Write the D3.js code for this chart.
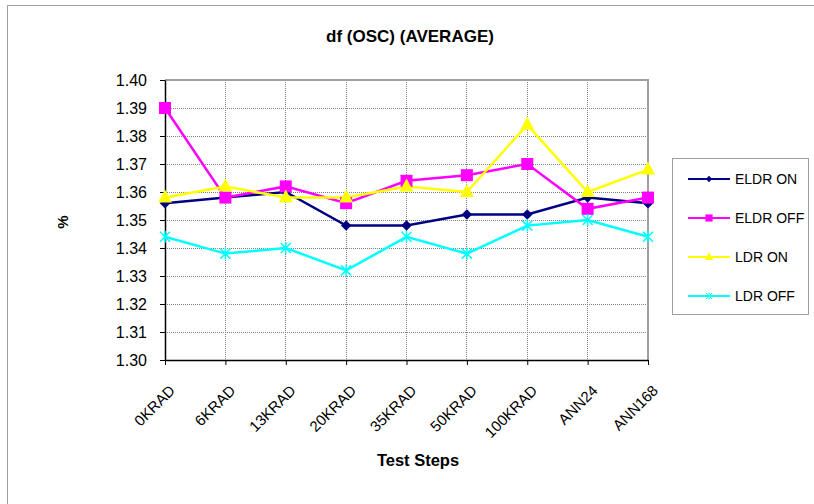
<!DOCTYPE html>
<html><head><meta charset="utf-8">
<script src="https://cdn.jsdelivr.net/npm/d3@7"></script>
<style>body{margin:0;background:#fff}svg{display:block;font-family:"Liberation Sans",Arial,sans-serif}</style>
</head><body><svg id="c" width="814" height="504"></svg>
<script>
const categories = ["0KRAD","6KRAD","13KRAD","20KRAD","35KRAD","50KRAD","100KRAD","ANN24","ANN168"];
const eldrOn  = [1.356,1.358,1.360,1.348,1.348,1.352,1.352,1.358,1.356];
const eldrOff = [1.390,1.358,1.362,1.356,1.364,1.366,1.370,1.354,1.358];
const ldrOn   = [1.358,1.362,1.358,1.358,1.362,1.360,1.384,1.360,1.368];
const ldrOff  = [1.344,1.338,1.340,1.332,1.344,1.338,1.348,1.350,1.344];
const yTicks = [1.30,1.31,1.32,1.33,1.34,1.35,1.36,1.37,1.38,1.39,1.40];
const seriesNames = ["ELDR ON","ELDR OFF","LDR ON","LDR OFF"];
const title = "df (OSC) (AVERAGE)", xTitle = "Test Steps", yTitle = "%";

const series = [
  {name:seriesNames[0], values:eldrOn, color:"#000080", sym:"diamond"},
  {name:seriesNames[1], values:eldrOff, color:"#FF00FF", sym:"square"},
  {name:seriesNames[2], values:ldrOn, color:"#FFFF00", sym:"triangle"},
  {name:seriesNames[3], values:ldrOff, color:"#00FFFF", sym:"x"}
];
const svg = d3.select("#c");
const L=165,R=648,T=80,B=360;
const x = d3.scalePoint().domain(categories).range([L,R]);
const y = d3.scaleLinear().domain([1.30,1.40]).range([B,T]);

svg.append("rect").attr("x",7.5).attr("y",5.5).attr("width",830).attr("height",520).attr("fill","none").attr("stroke","#a0a0a0");

// grid
const g = svg.append("g");
g.selectAll(".hg").data(yTicks).join("line").attr("x1",L).attr("x2",R).attr("y1",d=>y(d)).attr("y2",d=>y(d))
  .attr("stroke","#808080").attr("stroke-dasharray","1,1").attr("shape-rendering","crispEdges");
g.selectAll(".vg").data(categories).join("line").attr("x1",d=>x(d)).attr("x2",d=>x(d)).attr("y1",T).attr("y2",B)
  .attr("stroke","#808080").attr("stroke-dasharray","1,1").attr("shape-rendering","crispEdges");
// plot border top/right
svg.append("line").attr("x1",L).attr("x2",R+1).attr("y1",T).attr("y2",T).attr("stroke","#a0a0a0").attr("stroke-width",2);
svg.append("line").attr("x1",R).attr("x2",R).attr("y1",T).attr("y2",B).attr("stroke","#a0a0a0").attr("stroke-width",2);

// axes
const ya = svg.append("g").attr("transform",`translate(${L},0)`)
  .call(d3.axisLeft(y).tickValues(yTicks).tickFormat(d3.format(".2f")).tickSize(5).tickSizeOuter(0).tickPadding(13));
ya.select(".domain").attr("stroke","#000").attr("stroke-width",1.5);
ya.selectAll("text").attr("font-size",16).attr("fill","#000").attr("font-family","Liberation Sans, Arial, sans-serif");
const xa = svg.append("g").attr("transform",`translate(0,${B})`)
  .call(d3.axisBottom(x).tickSize(5).tickSizeOuter(0));
xa.select(".domain").attr("stroke","#000").attr("stroke-width",1.5);
xa.selectAll("text").attr("font-size",15).attr("fill","#000").attr("font-family","Liberation Sans, Arial, sans-serif")
  .attr("text-anchor","end").attr("y",0).attr("dy",0).attr("transform","translate(10.5,31.5) rotate(-45)");

// lines
const line = d3.line().x((d,i)=>x(categories[i])).y(d=>y(d));
function marker(sel, s){
  if(s.sym==="diamond") sel.append("path").attr("d",d3.symbol(d3.symbolDiamond2,70)).attr("fill",s.color);
  else if(s.sym==="square") sel.append("rect").attr("x",-6).attr("y",-6).attr("width",12).attr("height",12).attr("fill",s.color);
  else if(s.sym==="triangle") sel.append("path").attr("d","M0,-8L7,5L-7,5Z").attr("fill",s.color);
  else { sel.append("path").attr("d","M-5,-5L5,5M-5,5L5,-5M0,-6L0,6").attr("stroke",s.color).attr("stroke-width",1.5).attr("fill","none"); }
}
series.forEach(s=>{
  svg.append("path").datum(s.values).attr("d",line).attr("fill","none").attr("stroke",s.color).attr("stroke-width",2.5);
});
series.forEach(s=>{
  s.values.forEach((v,i)=>{
    const m = svg.append("g").attr("transform",`translate(${x(categories[i])},${y(v)})`);
    marker(m,s);
  });
});

// titles
svg.append("text").attr("x",410).attr("y",42).attr("text-anchor","middle").attr("font-weight","bold").attr("font-size",17).text(title);
svg.append("text").attr("x",418).attr("y",466).attr("text-anchor","middle").attr("font-weight","bold").attr("font-size",16.5).text(xTitle);
svg.append("text").attr("transform","translate(68,222) rotate(-90)").attr("text-anchor","middle").attr("font-weight","bold").attr("font-size",15).text(yTitle);

// legend
svg.append("rect").attr("x",672.5).attr("y",158.5).attr("width",136).attr("height",156).attr("fill","#fff").attr("stroke","#a0a0a0");
const ly = [179,218,257,296];
series.forEach((s,i)=>{
  svg.append("line").attr("x1",688).attr("x2",730).attr("y1",ly[i]).attr("y2",ly[i]).attr("stroke",s.color).attr("stroke-width",2);
  const m = svg.append("g").attr("transform",`translate(709,${ly[i]}) scale(0.6)`);
  marker(m,s);
  svg.append("text").attr("x",735).attr("y",ly[i]+5).attr("font-size",14).text(s.name);
});
</script></body></html>
